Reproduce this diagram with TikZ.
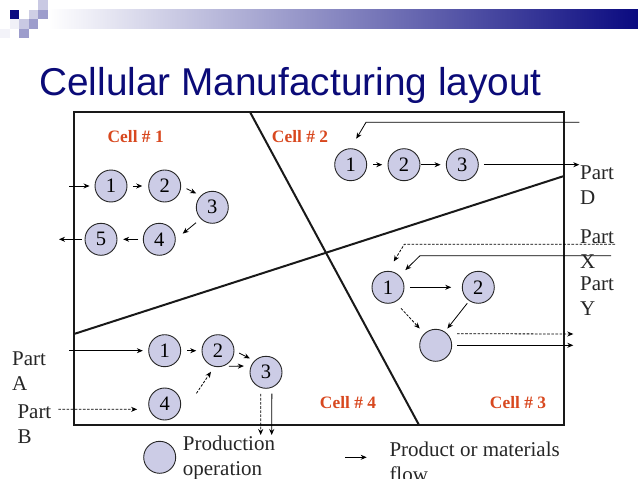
\documentclass[tikz,border=0pt]{standalone}
\usepackage{fontspec}
\setmainfont{Liberation Serif}
\newfontfamily\titlefont{Liberation Sans}
\usetikzlibrary{arrows.meta}
\definecolor{navytitle}{HTML}{0B0B78}
\definecolor{barblue}{HTML}{0A0A80}
\definecolor{procfill}{HTML}{CCCCE6}
\definecolor{celltext}{HTML}{D8481F}
\tikzset{
	proc/.style={circle,draw=black!85,fill=procfill,line width=0.9pt,minimum size=32pt,inner sep=0pt,font=\fontsize{20.5}{25}\selectfont},
	flow/.style={-{Stealth[length=6pt,width=5pt]},line width=0.8pt,black},
	dashflow/.style={flow,dash pattern=on 2.6pt off 1.5pt},
	divider/.style={line width=2pt,black!90},
	celllabel/.style={text=celltext,font=\fontsize{17.4}{20}\selectfont\bfseries},
	parttext/.style={anchor=west,align=left,inner sep=0pt,text=black!85,font=\fontsize{21}{25}\selectfont},
}
\begin{document}
\begin{tikzpicture}[x=1pt,y=-1pt]
	\useasboundingbox (0,0) rectangle (638,479);

% top bar
	\shade[left color=white,right color=barblue] (48,9.5) rectangle (638,28.5);
	\foreach \x/\y/\c in {9.5/9.5/barblue, 19/19/barblue!22, 28.5/19/barblue!40, 19/28.5/barblue!40, 38/9.5/barblue!40, 38/0/barblue!22, 28.5/9.5/barblue!20, 0/28.5/barblue!5, 9.5/19/barblue!6}
		\fill[\c] (\x,\y) rectangle ++(9.5,9.5);

% title
	\node[anchor=base west,inner sep=0pt,text=navytitle,font=\fontsize{38.8}{44}\selectfont\titlefont] (title) at (39,95) {Cellular Manufacturing layout};

% plant outline and cell boundaries
	\draw[divider] (74,112) rectangle (564,425);
	\coordinate (cuttop) at (250,112);
	\coordinate (cutbottom) at (419,425);
	\coordinate (cutleft) at (74,334);
	\coordinate (cutright) at (564,176);
	\draw[divider] (cuttop) -- (cutbottom);
	\draw[divider] (cutleft) -- (cutright);

% cell labels
	\node[celllabel] (labelone) at (135.7,137) {Cell \# 1};
	\node[celllabel] (labeltwo) at (300,137) {Cell \# 2};
	\node[celllabel] (labelfour) at (348,403) {Cell \# 4};
	\node[celllabel] (labelthree) at (518,403) {Cell \# 3};

% machines
	\foreach \n/\x/\y/\t in {a1/111/186/1, a2/164.7/186/2, a3/212.3/207.3/3, a4/159.3/239.3/4, a5/101/239.3/5,
		b1/350.7/164.7/1, b2/404/164.7/2, b3/462.3/164.7/3,
		c1/388/287.3/1, c2/478.3/287.3/2, c3/435.7/345.3/{},
		d1/164.7/350.7/1, d2/218/350.7/2, d3/266/372.3/3, d4/164.7/404/4,
		key/159.7/457.3/{}}
		\node[proc] (\n) at (\x,\y) {\t};

% free ends
	\coordinate (ain) at (69.3,186);
	\coordinate (aout) at (59,239.3);
	\coordinate (bin) at (579.3,122.3);
	\coordinate (bbend) at (366,122.3);
	\coordinate (bout) at (579.3,164.7);
	\coordinate (xin) at (615,244.3);
	\coordinate (xbend) at (404.3,244.3);
	\coordinate (yin) at (611,255.7);
	\coordinate (ybend) at (420,255.7);
	\coordinate (xout) at (573.3,334);
	\coordinate (yout) at (573.3,345.3);
	\coordinate (ain4) at (69.3,350.7);
	\coordinate (bin4) at (58.3,409.3);
	\coordinate (dashout) at (260.7,435);
	\coordinate (solidout) at (271.7,435);
	\coordinate (keystart) at (345,457.3);
	\coordinate (keyend) at (366.7,457.3);

% cell 1
	\draw[flow,shorten >=5pt] (ain) -- (a1);
	\draw[flow,shorten <=5.5pt,shorten >=6pt] (a1.east) -- (a2.west);
	\draw[flow,shorten <=6pt,shorten >=5pt] (a2.east) -- (a3.north west);
	\draw[flow,shorten <=6pt,shorten >=9pt] (a3.south west) -- (a4.east);
	\draw[flow,shorten <=4.6pt,shorten >=5.7pt] (a4.west) -- (a5.east);
	\draw[flow,shorten <=3pt] (a5.west) -- (aout);

% cell 2
	\draw[flow,shorten >=11pt] (bin) -- (bbend) -- (b1.north);
	\draw[flow,shorten <=6pt,shorten >=5.3pt] (b1.east) -- (b2.west);
	\draw[flow,shorten <=0.7pt,shorten >=5.3pt] (b2.east) -- (b3.west);
	\draw[flow,shorten <=5pt] (b3.east) -- (bout);

% cell 3
	\draw[dashflow,shorten >=11pt] (xin) -- (xbend) -- (c1.north);
	\draw[flow,shorten >=8pt] (yin) -- (ybend) -- (c1.north east);
	\draw[flow,shorten <=5.3pt,shorten >=10.6pt] (c1.east) -- (c2.west);
	\draw[dashflow,shorten <=8.5pt,shorten >=6.7pt] (c1.-64) -- (c3.134);
	\draw[flow,shorten <=3pt,shorten >=4pt] (c2.-124) -- (c3.56);
	\draw[dashflow,shorten <=9.7pt] (c3.45) -- (xout);
	\draw[flow,shorten <=5pt] (c3.east) -- (yout);

% cell 4
	\draw[flow,shorten >=5.4pt] (ain4) -- (d1);
	\draw[flow,shorten <=6pt,shorten >=5.3pt] (d1.east) -- (d2.west);
	\draw[flow,shorten <=5.3pt,shorten >=5pt] (d2.east) -- (d3.north west);
	\draw[flow,shorten <=6pt,shorten >=7pt] (d2.-73) -- (d3.157);
	\draw[dashflow,shorten >=12pt] (bin4) -- (d4.199.3);
	\draw[dashflow,shorten >=6pt] ([shift={(15.3,-10.7)}]d4.east) -- (d2.-103);
	\draw[dashflow,shorten <=6pt] (d3.-109.3) -- (dashout);
	\draw[flow,shorten <=6pt] (d3.-69) -- (solidout);

% legend
	\draw[flow] (keystart) -- (keyend);

% part names
	\node[parttext] (partd) at (580,185) {Part\\D};
	\node[parttext] (partx) at (580,249) {Part\\X};
	\node[parttext] (party) at (580,296.5) {Part\\Y};
	\node[parttext] (parta) at (12,371) {Part\\A};
	\node[parttext] (partb) at (17.3,424) {Part\\B};
	\node[parttext] (keyproc) at (182.7,458) {Production\\operation};
	\node[parttext] (keyflow) at (389.3,462) {Product or materials\\flow};
\end{tikzpicture}
\end{document}
